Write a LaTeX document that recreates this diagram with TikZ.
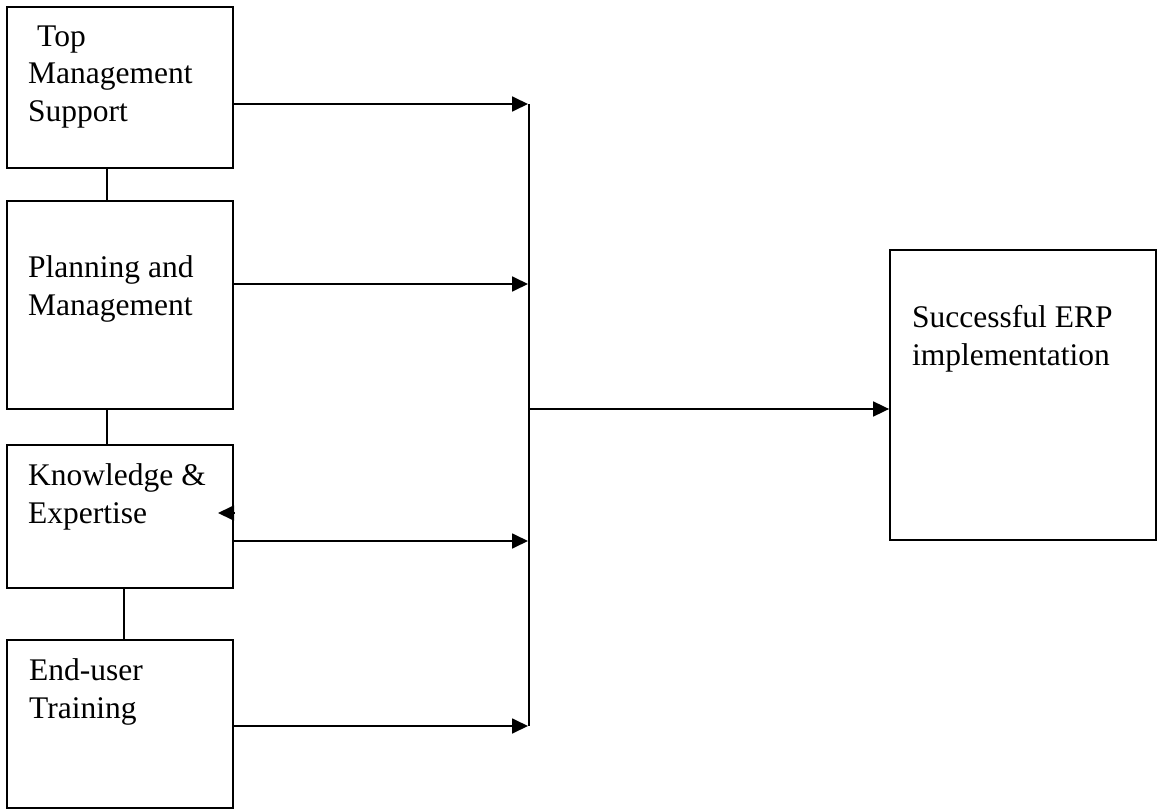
\documentclass[tikz,border=0pt]{standalone}
\usepackage{fontspec}
\setmainfont{Liberation Serif}
\usetikzlibrary{arrows.meta}
\begin{document}
\begin{tikzpicture}[x=1pt,y=-1pt,
  box/.style={draw,line width=1.8pt,minimum width=226pt,inner sep=0pt},
  lbl/.style={anchor=base west,inner sep=0pt,font=\fontsize{31.5}{37.5}\selectfont},
  conn/.style={line width=1.8pt},
  arr/.style={line width=1.8pt,-{Triangle[length=16pt,width=15pt]}}]
\useasboundingbox (0,0) rectangle (1164,810);
% boxes
\node[box,minimum height=161pt] (tm) at (120,87.5) {};
\node[box,minimum height=208pt] (pm) at (120,305) {};
\node[box,minimum height=143pt] (ke) at (120,516.5) {};
\node[box,minimum height=168pt] (eu) at (120,724) {};
\node[box,minimum width=266pt,minimum height=290pt] (erp) at (1023,395) {};
% labels
\node[lbl] (t1) at (37,47) {Top};
\node[lbl] (t2) at (28,84) {Management};
\node[lbl] (t3) at (28,122) {Support};
\node[lbl] (p1) at (28,278) {Planning and};
\node[lbl] (p2) at (28,316) {Management};
\node[lbl] (k1) at (28,485) {Knowledge \&};
\node[lbl] (k2) at (28,523) {Expertise};
\node[lbl] (e1) at (29,680) {End-user};
\node[lbl] (e2) at (29,718) {Training};
\node[lbl] (s1) at (912,327) {Successful ERP};
\node[lbl] (s2) at (912,365) {implementation};
% vertical links between boxes
\draw[conn] ([xshift=-13pt]tm.south) -- ([xshift=-13pt]pm.north);
\draw[conn] ([xshift=-13pt]pm.south) -- ([xshift=-13pt]ke.north);
\draw[conn] ([xshift=4pt]ke.south) -- ([xshift=4pt]eu.north);
% bus
\coordinate (b1) at (529,104);
\coordinate (b2) at (529,284);
\coordinate (bm) at (529,409);
\coordinate (b3) at (529,541);
\coordinate (b4) at (529,726);
\draw[conn] (b1) -- (b4);
\draw[arr] (tm.east |- b1) -- ([xshift=-1pt]b1);
\draw[arr] (pm.east |- b2) -- ([xshift=-1pt]b2);
\draw[arr] (ke.east |- b3) -- ([xshift=-1pt]b3);
\draw[arr] (eu.east |- b4) -- ([xshift=-1pt]b4);
\draw[arr] (bm) -- (erp.west |- bm);
% stray arrowhead at Knowledge box
\coordinate (st) at (218,513);
\draw[arr] (ke.east |- st) -- (st);
\end{tikzpicture}
\end{document}
